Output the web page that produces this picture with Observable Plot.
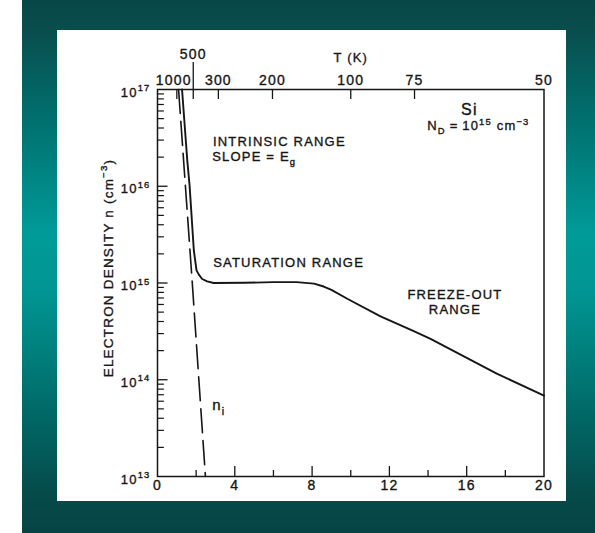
<!DOCTYPE html>
<html>
<head>
<meta charset="utf-8">
<script src="https://cdn.jsdelivr.net/npm/d3@7"></script>
<script src="https://cdn.jsdelivr.net/npm/@observablehq/plot@0.6"></script>
<style>
html, body { margin: 0; padding: 0; background: #ffffff; }
#wrap { position: relative; width: 595px; height: 533px; overflow: hidden; }
#teal { position: absolute; left: 22px; top: 0; width: 573px; height: 533px;
  background: linear-gradient(to bottom, #064646 0%, #0a4e4e 6%, #006f6e 22%, #009b98 44%, #009592 55%, #006866 78%, #064a4a 93%, #064444 100%); }
#panel { position: absolute; left: 57px; top: 30px; width: 509px; height: 471px; background: #ffffff; }
#chart { position: absolute; left: 0; top: 0; }
</style>
</head>
<body>
<div id="wrap"><div id="teal"></div><div id="panel"></div><div id="chart"></div></div>
<script>
// ---- data (x = 1000/T in 1/K, n in cm^-3) ----
const invT = [1.27, 1.54, 1.66, 1.88, 2.02, 2.14, 2.31, 2.57, 2.91, 4.5, 6.0, 7.2, 8.1, 8.6, 9.0, 9.82, 11.54, 13.26, 14.13, 17.58, 20.0];
const nElectron = [1e17, 1.85e16, 1.02e16, 2.17e15, 1.35e15, 1.22e15, 1.1e15, 1.04e15, 1.0e15, 1.005e15, 1.02e15, 1.02e15, 0.985e15, 0.92e15, 0.85e15, 0.687e15, 0.451e15, 0.318e15, 0.265e15, 1.15e14, 6.87e13];
const invTni = [1.09, 1.80, 2.48];
const nIntrinsic = [1e17, 1e15, 1e13];

// tick labels
const bottomTicks = [0, 4, 8, 12, 16, 20];
const bottomMinor = [2, 6, 10, 14, 18];
const decades = [1e13, 1e14, 1e15, 1e16, 1e17];
const topLabels = ["1000", "500", "300", "200", "100", "75", "50"];
const topPos = [1.0, 1.85, 3.15, 5.95, 10.0, 13.3, 20.0]; // positions as drawn in the figure

// annotations (data coordinates)
const noteLabels = ["INTRINSIC RANGE", "SLOPE = E_{g}", "SATURATION RANGE", "N_{D}\u2009=\u200910^{15} cm^{-3}", "n_{i}"];
const noteX = [2.87, 2.83, 2.88, 13.96, 2.83];
const noteN = [2.9e16, 2.0e16, 1.61e15, 4.2e16, 5.4e13];

const INK = "#161616";
const solid = invT.map((x, i) => ({x, n: nElectron[i]}));
const dashed = invTni.map((x, i) => ({x, n: nIntrinsic[i]}));
const minorY = [];
for (const d of decades.slice(0, 4)) for (let k = 2; k <= 9; k++) minorY.push(k * d);
const topMap = new Map(topPos.map((p, i) => [p, topLabels[i]]));
const notes = noteLabels.map((t, i) => ({t, x: noteX[i], n: noteN[i]}));
const majorTicksY = decades.slice(1, 4).map(v => ({v}));
const minorTicksY = minorY.map(v => ({v}));

const chart = Plot.plot({
  width: 595, height: 533,
  marginLeft: 157, marginRight: 51.5, marginTop: 89, marginBottom: 57,
  x: {domain: [0, 20], label: null},
  y: {type: "log", domain: [1e13, 1e17], label: null},
  style: {background: "transparent", color: INK, fontFamily: "'Liberation Sans', Arial, sans-serif", overflow: "visible"},
  marks: [
    Plot.frame({stroke: INK, strokeWidth: 1.5}),
    // left axis ticks (inward)
    Plot.link(majorTicksY, {x1: () => 0, x2: () => 0.52, y1: "v", y2: "v", stroke: INK, strokeWidth: 1.3}),
    Plot.link(minorTicksY, {x1: () => 0, x2: () => 0.33, y1: "v", y2: "v", stroke: INK, strokeWidth: 1.2}),
    Plot.axisY({ticks: decades, tickSize: 0, tickPadding: 7, dy: 3, fontSize: 13,
      tickFormat: d => `10^{${Math.round(Math.log10(d))}}`, label: null}),
    // bottom axis
    Plot.axisX({anchor: "bottom", ticks: [4, 8, 12, 16], tickSize: 10, dy: -10, fill: "none", label: null, strokeWidth: 1.3}),
    Plot.axisX({anchor: "bottom", ticks: bottomMinor, tickSize: 6, dy: -6, fill: "none", label: null, strokeWidth: 1.3}),
    Plot.axisX({anchor: "bottom", ticks: bottomTicks, tickSize: 0, tickPadding: 4, fontSize: 14, label: null}),
    // top axis (T in K)
    Plot.axisX({anchor: "top", ticks: topPos.slice(0, 6), tickSize: 9, dy: 9, fill: "none", label: null, strokeWidth: 1.3}),
    Plot.axisX({anchor: "top", ticks: [topPos[1]], tickSize: 28, tickPadding: 3, fontSize: 14,
      tickFormat: d => topMap.get(d), label: null, strokeWidth: 1.3}),
    Plot.axisX({anchor: "top", ticks: [topPos[0]], tickSize: 0, tickPadding: 5, dx: -3, fontSize: 14,
      tickFormat: d => topMap.get(d), label: null}),
    Plot.axisX({anchor: "top", ticks: topPos.slice(2), tickSize: 0, tickPadding: 5, fontSize: 14,
      tickFormat: d => topMap.get(d), label: null}),
    Plot.text(["T (K)"], {frameAnchor: "top", dy: -28, lineAnchor: "bottom", textAnchor: "middle", fontSize: 13}),
    Plot.text(["ELECTRON DENSITY n (cm^{-3})"], {frameAnchor: "left", textAnchor: "middle", rotate: -90, dx: -49, dy: -15, fontSize: 13.5}),
    // curves
    Plot.line(dashed, {x: "x", y: "n", stroke: INK, strokeWidth: 1.6, strokeDasharray: "24,8"}),
    Plot.line(solid, {x: "x", y: "n", stroke: INK, strokeWidth: 1.9, strokeLinejoin: "round"}),
    // annotations
    Plot.text(notes.slice(0, 4), {x: "x", y: "n", text: "t", textAnchor: "start", fontSize: 13, fill: INK}),
    Plot.text(notes.slice(4), {x: "x", y: "n", text: "t", textAnchor: "start", fontSize: 15, fill: INK}),
    Plot.text(["FREEZE-OUT\nRANGE"], {x: [15.39], y: [6.37e14], textAnchor: "middle", fontSize: 13, lineHeight: 1.15, fill: INK}),
    Plot.text(["Si"], {x: [16.14], y: [6.14e16], textAnchor: "middle", fontSize: 16, fill: INK})
  ]
});
document.getElementById("chart").appendChild(chart);
chart.style.letterSpacing = "1.2px";

// turn ^{..} and _{..} markup into real super/subscripts
const NS = "http://www.w3.org/2000/svg";
function rich(node) {
  const s = node.textContent;
  if (!/[\^_]\{/.test(s)) return;
  const fs = parseFloat(getComputedStyle(node).fontSize) || 12;
  const parts = [];
  const re = /([\^_])\{([^}]*)\}/g;
  let last = 0, m;
  while ((m = re.exec(s))) {
    if (m.index > last) parts.push({t: s.slice(last, m.index), k: 0});
    parts.push({t: m[2], k: m[1] === "^" ? 1 : -1});
    last = re.lastIndex;
  }
  if (last < s.length) parts.push({t: s.slice(last), k: 0});
  node.textContent = "";
  let cur = 0;
  for (const p of parts) {
    const ts = document.createElementNS(NS, "tspan");
    const target = p.k === 1 ? -0.42 * fs : p.k === -1 ? 0.3 * fs : 0;
    ts.setAttribute("dy", (target - cur).toFixed(2));
    cur = target;
    if (p.k) ts.setAttribute("font-size", (0.72 * fs).toFixed(2));
    ts.textContent = p.t.replace(/-/g, "\u2212");
    node.appendChild(ts);
  }
}
chart.querySelectorAll("text").forEach(t => {
  if (t.querySelector("tspan")) t.querySelectorAll("tspan").forEach(rich);
  else rich(t);
  t.style.stroke = INK;
  t.style.strokeWidth = "0.35px";
});
</script>
</body>
</html>
